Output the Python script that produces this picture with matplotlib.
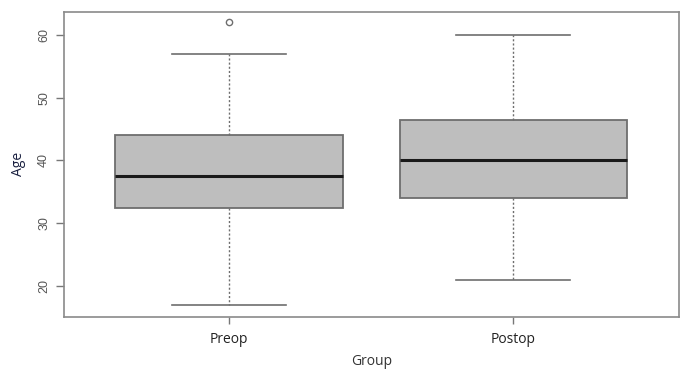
import matplotlib
matplotlib.use("Agg")
import matplotlib.pyplot as plt

groups = ["Preop", "Postop"]
whisker_low = [17, 21]
q1 = [32.5, 34]
medians = [37.5, 40]
q3 = [44, 46.5]
whisker_high = [57, 60]
outliers = [[62], []]
yticks = [20, 30, 40, 50, 60]

fig = plt.figure(figsize=(6.85, 3.71), dpi=100)
ax = fig.add_axes([64/685, 1-316.7/371, (679-64)/685, (316.7-11.7)/371])

stats = []
for i, g in enumerate(groups):
    stats.append(dict(label=g, whislo=whisker_low[i], q1=q1[i], med=medians[i],
                      q3=q3[i], whishi=whisker_high[i], fliers=outliers[i]))

ax.bxp(stats, positions=[1, 2], widths=0.8, patch_artist=True,
       boxprops=dict(facecolor="#bebebe", edgecolor="#6e6e6e", linewidth=1.3),
       medianprops=dict(color="#1a1a1a", linewidth=2.2),
       whiskerprops=dict(color="#6e6e6e", linestyle=(0, (1.5, 1.5)), linewidth=1.0),
       capprops=dict(color="#6e6e6e", linewidth=1.2),
       capwidths=0.4,
       flierprops=dict(marker="o", markersize=4.5, markerfacecolor="none",
                       markeredgecolor="#6e6e6e", markeredgewidth=1.0))

ax.set_xlim(0.419, 2.583)
ax.set_ylim(15.1, 63.7)
ax.set_yticks(yticks)
ax.set_yticklabels([str(t) for t in yticks], rotation=90, va="center",
                   family="Liberation Sans", fontsize=9, color="#555555")
ax.set_xticks([1, 2])
ax.set_xticklabels(groups, family="Open Sans", fontsize=10, color="#222222")
ax.tick_params(axis="y", length=6, width=1, color="#777777", pad=4)
ax.tick_params(axis="x", length=5, width=1, color="#777777", pad=6)
for s in ax.spines.values():
    s.set_color("#8a8a8a")
    s.set_linewidth(1.2)

ax.set_ylabel("Age", family="Open Sans", fontsize=10, color="#1a2040", labelpad=9)
ax.set_xlabel("Group", family="Open Sans", fontsize=10, color="#333333", labelpad=5)

fig.savefig("out.png", dpi=100)
